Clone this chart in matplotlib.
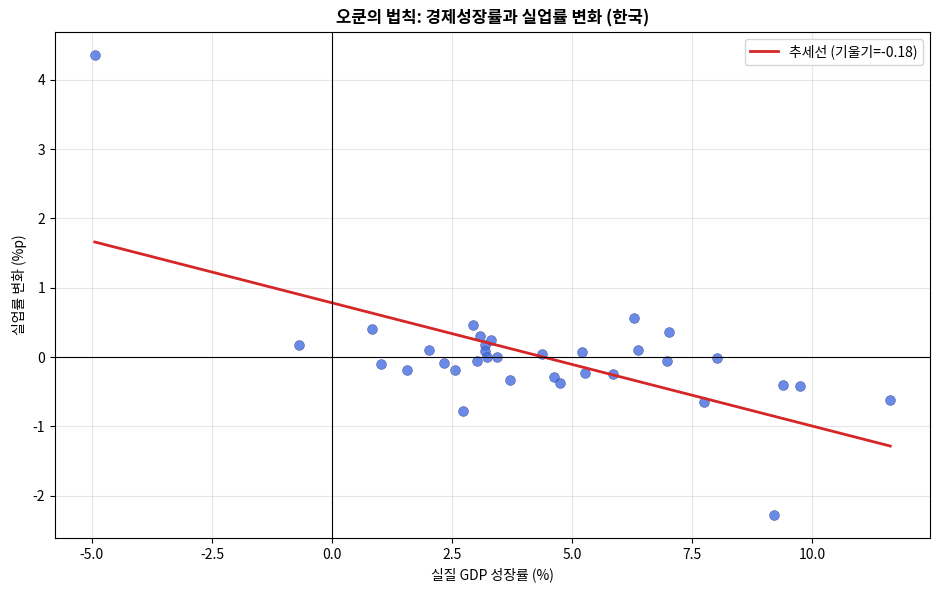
import numpy as np
import matplotlib
matplotlib.use("Agg")
import matplotlib.pyplot as plt

plt.rcParams['font.family'] = ['Noto Sans CJK KR', 'DejaVu Sans']
plt.rcParams['axes.unicode_minus'] = False

# 실질 GDP 성장률 (%) / 실업률 변화 (%p)
gdp = [-4.94, -0.69, 0.84, 1.02, 1.57, 2.02, 2.33, 2.55, 2.72, 2.93, 3.02, 3.08,
       3.18, 3.18, 3.22, 3.31, 3.43, 3.70, 4.37, 4.62, 4.75, 5.21, 5.26, 5.84,
       6.28, 6.36, 6.98, 7.01, 7.75, 8.01, 9.21, 9.38, 9.75, 11.62]
unemp = [4.36, 0.18, 0.40, -0.10, -0.19, 0.10, -0.09, -0.19, -0.78, 0.46, -0.06, 0.30,
         0.17, 0.09, 0.00, 0.25, 0.00, -0.33, 0.05, -0.29, -0.37, 0.07, -0.23, -0.25,
         0.56, 0.10, -0.05, 0.36, -0.65, -0.02, -2.28, -0.41, -0.42, -0.62]

x = np.array(gdp)
y = np.array(unemp)
slope, icpt = np.polyfit(x, y, 1)
xs = np.array([x.min(), x.max()])

fig, ax = plt.subplots(figsize=(9.39, 5.9), dpi=100)
ax.scatter(x, y, s=50, color='royalblue', alpha=0.78, edgecolors='#334488', linewidths=0.4)
ax.plot(xs, slope * xs + icpt, color='#d62728', linewidth=2, label=f'추세선 (기울기={slope:.2f})')
ax.axhline(0, color='black', linewidth=0.8)
ax.axvline(0, color='black', linewidth=0.8)
ax.set_title('오쿤의 법칙: 경제성장률과 실업률 변화 (한국)', fontweight='bold')
ax.set_xlabel('실질 GDP 성장률 (%)')
ax.set_ylabel('실업률 변화 (%p)')
ax.grid(True, alpha=0.3)
ax.legend(loc='upper right')
fig.subplots_adjust(left=0.0586, right=0.9904, top=0.9458, bottom=0.0881)
fig.savefig('out.png')
